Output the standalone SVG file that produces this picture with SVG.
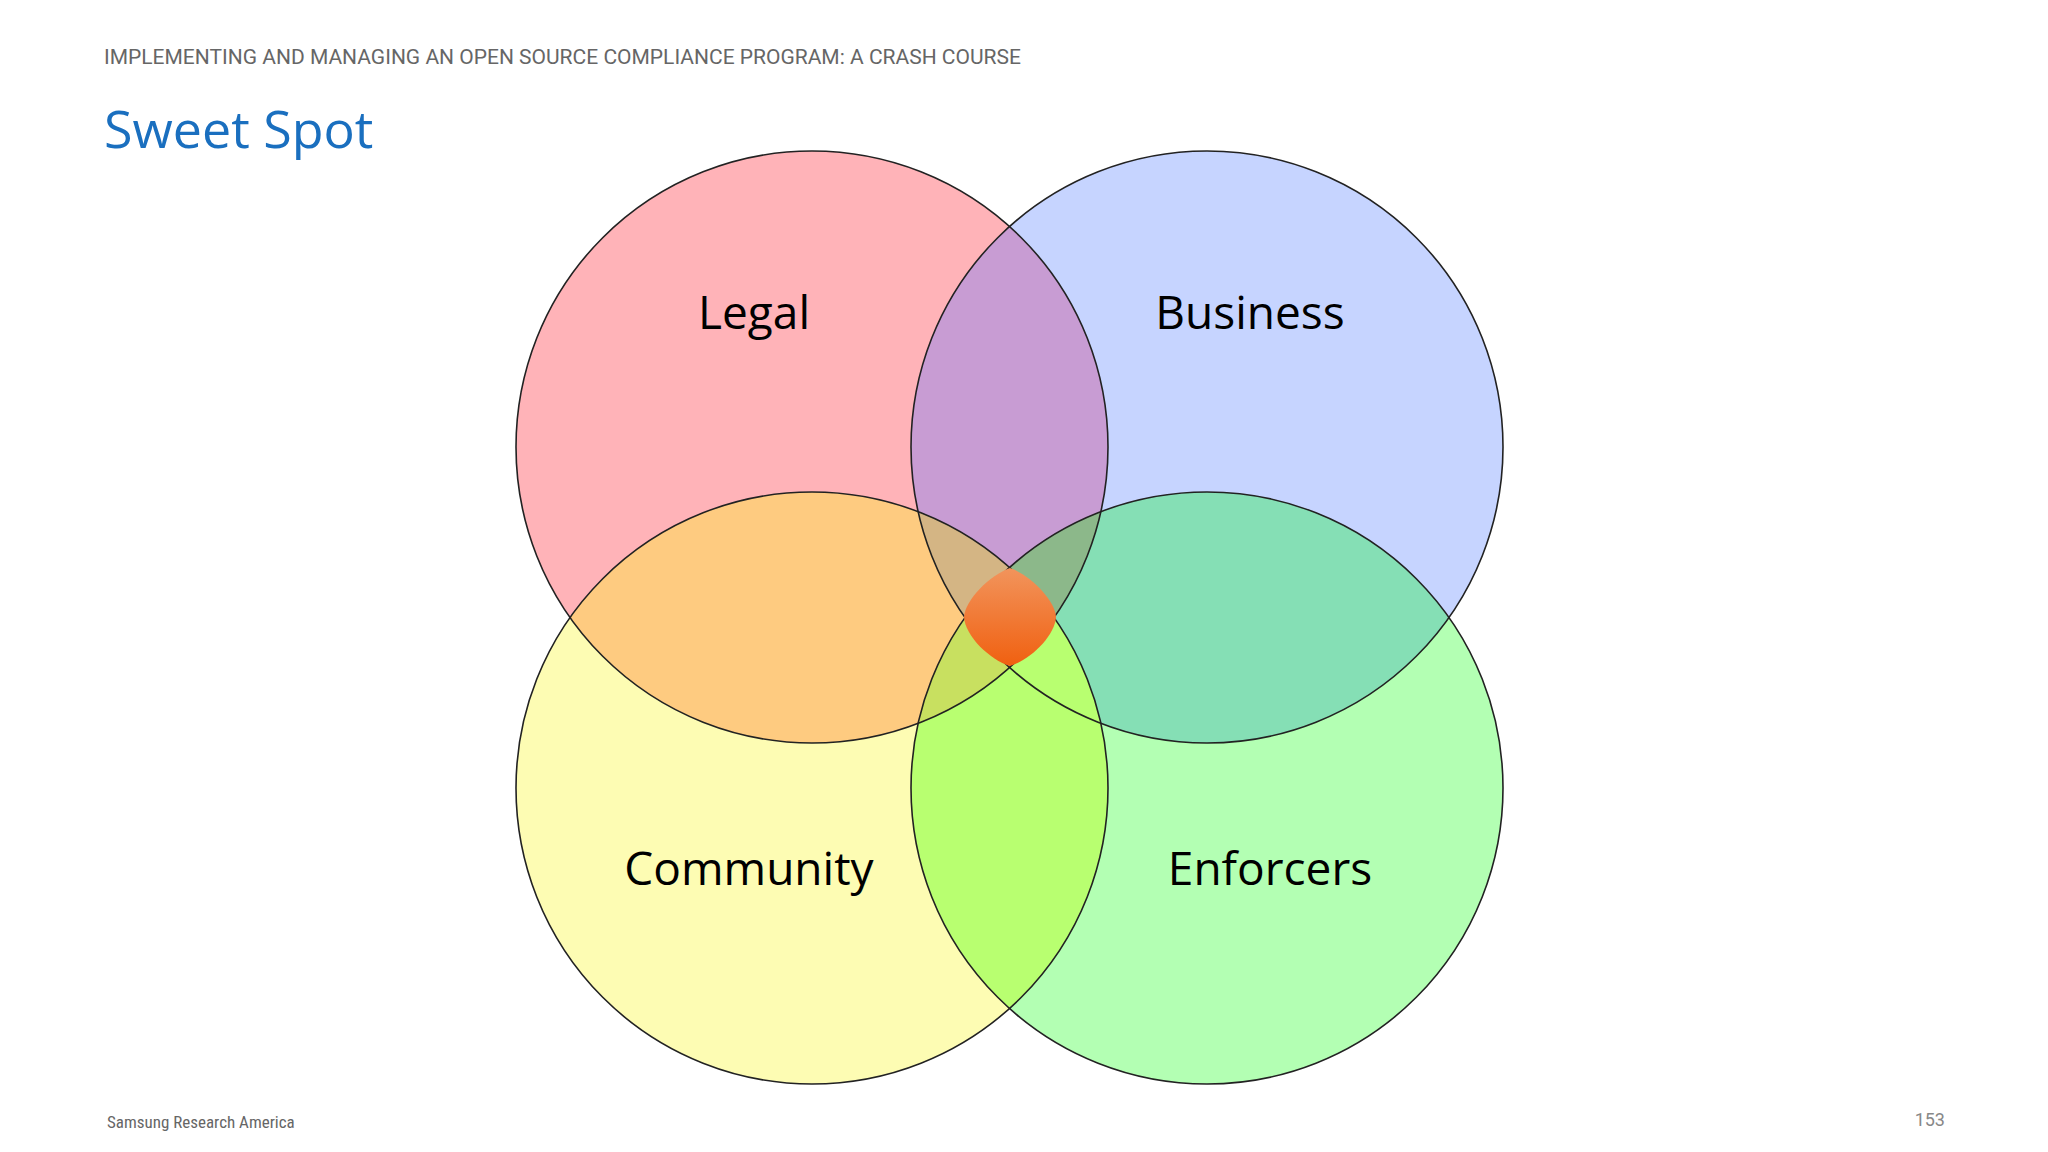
<svg xmlns="http://www.w3.org/2000/svg" width="2048" height="1152" viewBox="0 0 2048 1152">
<style>
.c{stroke:#222;stroke-width:1.6;fill:none}
.lbl{font-family:"Open Sans","Noto Sans",sans-serif;font-size:46px;fill:#000;text-anchor:middle}
</style>
<defs>
<clipPath id="cL"><circle cx="812" cy="447" r="296"/></clipPath>
<clipPath id="cB"><circle cx="1207" cy="447" r="296"/></clipPath>
<clipPath id="cC"><circle cx="812" cy="788" r="296"/></clipPath>
<clipPath id="cE"><circle cx="1207" cy="788" r="296"/></clipPath>
<linearGradient id="g" x1="0" y1="0" x2="0" y2="1"><stop offset="0" stop-color="#f2945c"/><stop offset="1" stop-color="#f06010"/></linearGradient>
</defs>
<rect width="2048" height="1152" fill="#fff"/>
<text x="104" y="64" font-family="Roboto,'Liberation Sans',sans-serif" font-size="21" fill="#666">IMPLEMENTING AND MANAGING AN OPEN SOURCE COMPLIANCE PROGRAM: A CRASH COURSE</text>
<text x="104" y="148" font-family="'Open Sans','Noto Sans',sans-serif" font-size="52" fill="#1a6fbf">Sweet Spot</text>
<g id="fills">
<circle cx="812" cy="447" r="296" fill="#ffb3b8"/>
<circle cx="1207" cy="447" r="296" fill="#c6d4ff"/>
<circle cx="812" cy="788" r="296" fill="#fdfcb3"/>
<circle cx="1207" cy="788" r="296" fill="#b3ffb3"/>
<g clip-path="url(#cL)"><circle cx="1207" cy="447" r="296" fill="#c89cd3"/><circle cx="812" cy="788" r="296" fill="#fecb80"/></g>
<g clip-path="url(#cB)"><circle cx="1207" cy="788" r="296" fill="#85dfb5"/></g>
<g clip-path="url(#cC)"><circle cx="1207" cy="788" r="296" fill="#b8ff70"/></g>
<g clip-path="url(#cL)"><g clip-path="url(#cB)"><circle cx="812" cy="788" r="296" fill="#d4b584"/><circle cx="1207" cy="788" r="296" fill="#8cb88a"/></g></g>
<g clip-path="url(#cL)"><g clip-path="url(#cC)"><circle cx="1207" cy="788" r="296" fill="#c8e060"/></g></g>
</g>
<g id="legal"><circle class="c" cx="812" cy="447" r="296"/><text class="lbl" x="754" y="329">Legal</text></g>
<g id="business"><circle class="c" cx="1207" cy="447" r="296"/><text class="lbl" x="1250" y="329">Business</text></g>
<g id="community"><circle class="c" cx="812" cy="788" r="296"/><text class="lbl" x="749" y="885">Community</text></g>
<g id="enforcers"><circle class="c" cx="1207" cy="788" r="296"/><text class="lbl" x="1270" y="885">Enforcers</text></g>
<g id="sweetspot"><path d="M1010 568 C1030 575 1055 600 1056 617 C1055 636 1030 660 1010 666 C990 660 965 636 964 617 C965 600 990 575 1010 568 Z" fill="url(#g)"/></g>
<g id="connectors"/>
<text x="107" y="1128" font-family="'Liberation Sans Narrow','Roboto Condensed',Roboto,sans-serif" font-size="17" fill="#666">Samsung Research America</text>
<text x="1945" y="1126" font-family="Roboto,'Liberation Sans',sans-serif" font-size="18" fill="#888" text-anchor="end">153</text>
</svg>
